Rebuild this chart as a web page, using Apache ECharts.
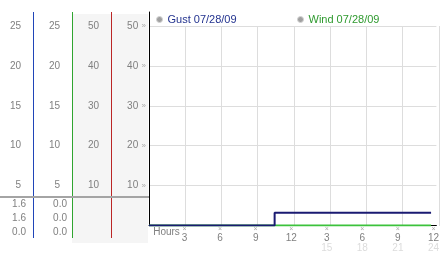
<!DOCTYPE html>
<html><head><meta charset="utf-8">
<script src="https://cdn.jsdelivr.net/npm/echarts@6/dist/echarts.min.js"></script>
<style>html,body{margin:0;padding:0;background:#fff}#c{width:442px;height:253px}</style>
</head><body><div id="c"></div>
<script>
// ---- data ----
const hourTicks = [3, 6, 9, 12, 15, 18, 21, 24];
const hourLabels12 = ['3', '6', '9', '12', '3', '6', '9', '12'];
const hourLabels24 = ['', '', '', '', '15', '18', '21', '24'];
const gustTicks = [5, 10, 15, 20, 25];
const windTicks = [5, 10, 15, 20, 25];
const scale50Ticks = [10, 20, 30, 40, 50];
const gustData = [[0, 0], [10.6, 1.6], [23.8, 1.6]];
const windData = [[0, 0], [23.8, 0]];
const gustReadout = ['1.6', '1.6', '0.0'];
const windReadout = ['0.0', '0.0', '0.0'];
const legendNames = ['Gust 07/28/09', 'Wind 07/28/09'];

// ---- styles ----
const FONT = '"Liberation Sans", Arial, sans-serif';
const TXT = '#808080';
const GUST_C = '#1a1a72';
const WIND_C = '#3cc23c';

function tickFmt(ticks, marker) {
  return function (v) {
    if (ticks.indexOf(v) < 0) return '';
    return marker ? '{v|' + v + '} {m|»}' : '{v|' + v + '}';
  };
}
const labelRich = {
  v: { fontFamily: FONT, fontSize: 10, color: TXT },
  m: { fontFamily: FONT, fontSize: 8, color: '#aaaaaa' }
};
function sideAxis(offset, max, interval, ticks, margin, marker) {
  return {
    type: 'value', gridIndex: 0, position: 'left', offset: offset,
    min: 0, max: max, interval: interval,
    axisLine: { show: false, onZero: false }, axisTick: { show: false },
    splitLine: { show: false },
    axisLabel: { margin: margin, formatter: tickFmt(ticks, marker), rich: labelRich }
  };
}

const chart = echarts.init(document.getElementById('c'), null, { renderer: 'canvas' });

const yAxes = [
  {
    type: 'value', gridIndex: 0, position: 'left', offset: 0,
    min: 0, max: 53.5, interval: 10,
    axisLine: { show: true, onZero: false, lineStyle: { color: '#000', width: 1 } },
    axisTick: { show: false },
    splitLine: { show: true, showMinLine: false, showMaxLine: false, lineStyle: { color: '#dddddd', width: 1 } },
    axisLabel: { margin: 3, formatter: tickFmt(scale50Ticks, true), rich: labelRich }
  },
  sideAxis(38, 53.5, 10, scale50Ticks, 12, false),   // column 3
  sideAxis(77, 26.75, 5, windTicks, 12, false),      // wind column
  sideAxis(116, 26.75, 5, gustTicks, 12, false),     // gust column
  { type: 'value', gridIndex: 1, show: false },
  { type: 'value', gridIndex: 2, show: false }
];

const xAxes = [
  {
    type: 'value', gridIndex: 0, position: 'bottom', min: 0, max: 24.25, interval: 3,
    axisLine: { show: true, onZero: false, lineStyle: { color: '#000', width: 1 } },
    axisTick: { show: false }, splitLine: { show: false },
    axisLabel: {
      margin: 1,
      formatter: function (v) {
        if (v === 0) return '{h|Hours}';
        const i = hourTicks.indexOf(v);
        if (i < 0) return '';
        return '{m|×}\n{n|' + hourLabels12[i] + '}\n{l|' + (hourLabels24[i] || ' ') + '}';
      },
      rich: {
        h: { fontFamily: FONT, fontSize: 10, color: TXT, lineHeight: 11, padding: [0, 0, 0, 35] },
        m: { fontFamily: FONT, fontSize: 7, color: '#aaaaaa', lineHeight: 6 },
        n: { fontFamily: FONT, fontSize: 10, color: TXT, lineHeight: 11 },
        l: { fontFamily: FONT, fontSize: 10, color: '#dcdcdc', lineHeight: 9 }
      }
    }
  },
  { type: 'value', gridIndex: 1, show: false },
  {
    type: 'value', gridIndex: 2, min: 0, max: 24.25, interval: 3,
    axisLine: { show: false }, axisTick: { show: false }, axisLabel: { show: false },
    splitLine: { show: true, showMinLine: false, showMaxLine: false, lineStyle: { color: '#dddddd', width: 1 } }
  }
];

function legendCfg(name, left, color) {
  return {
    data: [{ name: name, textStyle: { color: color } }],
    left: left, top: 14, padding: 0, icon: 'circle', itemWidth: 6, itemHeight: 6,
    itemStyle: { color: '#a0a0a0', borderColor: '#d4d4d4', borderWidth: 1 },
    textStyle: { fontFamily: FONT, fontSize: 11 }, selectedMode: false
  };
}

// column rules and separator (decoration)
const rules = [
  { x: 33.5, color: '#2045b8' },
  { x: 72.5, color: '#30a530' },
  { x: 111.5, color: '#bb2626' }
];
const graphics = [];
rules.forEach(function (r) {
  graphics.push({ type: 'line', z: 50, shape: { x1: r.x, y1: 12, x2: r.x, y2: 238 }, style: { stroke: r.color, lineWidth: 1 } });
});
graphics.push({ type: 'line', z: 60, shape: { x1: 0, y1: 197, x2: 149, y2: 197 }, style: { stroke: '#a4a4a4', lineWidth: 2 } });
gustReadout.forEach(function (t, i) {
  graphics.push({ type: 'text', z: 60, x: 26, y: 204 + i * 14, style: { text: t, fill: TXT, font: '10px ' + FONT, textAlign: 'right', textVerticalAlign: 'middle' } });
});
windReadout.forEach(function (t, i) {
  graphics.push({ type: 'text', z: 60, x: 67, y: 204 + i * 14, style: { text: t, fill: TXT, font: '10px ' + FONT, textAlign: 'right', textVerticalAlign: 'middle' } });
});

chart.setOption({
  animation: false,
  backgroundColor: '#ffffff',
  legend: [legendCfg(legendNames[0], 156, '#23338f'), legendCfg(legendNames[1], 297, '#2f9a2f')],
  grid: [
    { left: 149, right: 0, top: 12, bottom: 27, containLabel: false },
    { left: 72, width: 76, top: 14, height: 229, show: true, backgroundColor: '#f5f5f5', borderWidth: 0, z: -1 },
    { left: 149, right: 0, top: 26, bottom: 27 }
  ],
  xAxis: xAxes,
  yAxis: yAxes,
  graphic: graphics,
  series: [
    {
      name: legendNames[1], type: 'line', xAxisIndex: 0, yAxisIndex: 2, data: windData,
      showSymbol: false, symbol: 'none', lineStyle: { color: WIND_C, width: 2 }, itemStyle: { color: WIND_C }
    },
    {
      name: legendNames[0], type: 'line', xAxisIndex: 0, yAxisIndex: 3, data: gustData, step: 'end',
      showSymbol: false, symbol: 'none', lineStyle: { color: GUST_C, width: 2 }, itemStyle: { color: GUST_C }
    }
  ]
});
</script>
</body></html>
